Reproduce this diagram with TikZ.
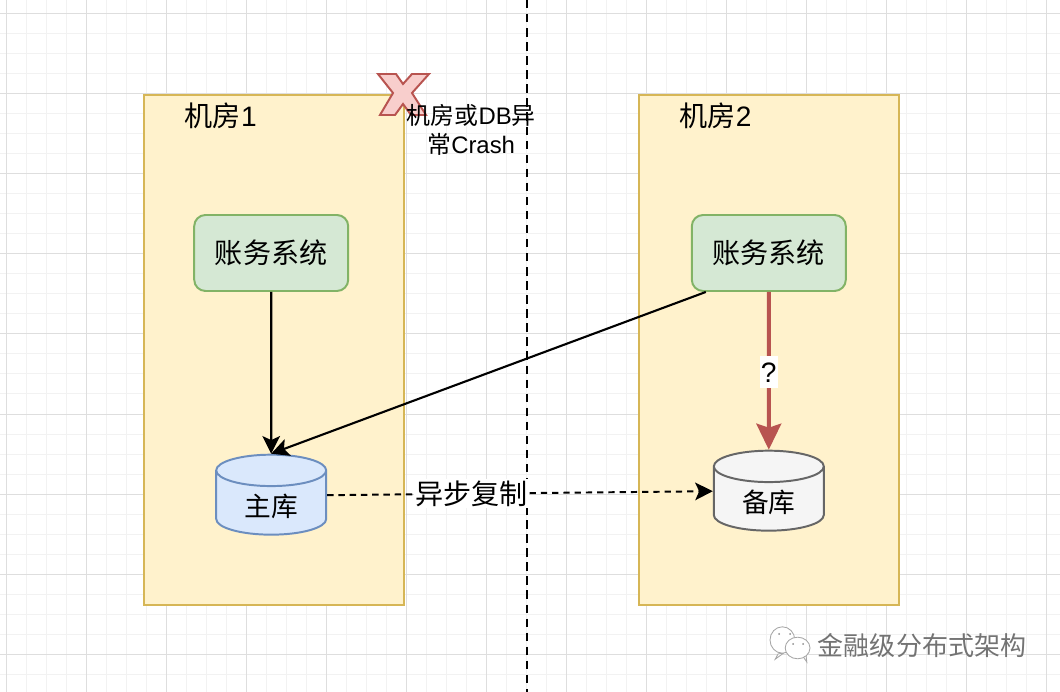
\documentclass[tikz,border=0pt]{standalone}
\usepackage{fontspec}
\setmainfont{Noto Sans CJK SC}
\newfontfamily\latin{Liberation Sans}
\usetikzlibrary{positioning,arrows.meta,shapes.geometric}

\begin{document}
\begin{tikzpicture}[>={Stealth[inset=1mm,length=4.4mm,width=4.4mm]},
  every node/.style={font=\fontsize{20pt}{24pt}\selectfont},
  room/.style={draw=roomline, fill=roomfill, line width=1.4pt, minimum width=6.5cm, minimum height=12.75cm},
  account/.style={draw=acctline, fill=acctfill, line width=1.4pt, rounded corners=8pt, minimum width=3.85cm, minimum height=1.9cm},
  store/.style={draw, cylinder, shape border rotate=90, aspect=0.5, line width=1.4pt, minimum width=2.75cm, minimum height=2cm, font=\fontsize{19pt}{23pt}\selectfont},
  conn/.style={->, line width=1.5pt, black},
  bubble/.style={draw=black!35, fill=white, line width=0.6pt}]
  \definecolor{roomfill}{HTML}{FFF2CC}
  \definecolor{roomline}{HTML}{D6B656}
  \definecolor{acctfill}{HTML}{D5E8D4}
  \definecolor{acctline}{HTML}{82B366}
  \definecolor{mainfill}{HTML}{DAE8FC}
  \definecolor{mainline}{HTML}{6C8EBF}
  \definecolor{backfill}{HTML}{F5F5F5}
  \definecolor{backline}{HTML}{666666}
  \definecolor{redfill}{HTML}{F8CECC}
  \definecolor{redline}{HTML}{B85450}
  \useasboundingbox (0,0) rectangle (26.5,17.3);

  % grid
  \foreach \x in {0,...,52} \draw[black!5, line width=0.7pt] (0.15+\x*0.5,0) -- (0.15+\x*0.5,17.3);
  \foreach \y in {0,...,34} \draw[black!5, line width=0.7pt] (0,0.45+\y*0.5) -- (26.5,0.45+\y*0.5);
  \foreach \x in {0,...,13} \draw[black!13, line width=0.7pt] (0.15+\x*2,0) -- (0.15+\x*2,17.3);
  \foreach \y in {0,...,8} \draw[black!13, line width=0.7pt] (0,0.95+\y*2) -- (26.5,0.95+\y*2);

  % divider
  \coordinate (top) at (13.17,17.3);
  \coordinate (bottom) at (13.17,0);
  \draw[dashed, line width=1.4pt, dash pattern=on 6pt off 4pt] (top) -- (bottom);

  \node[room] (room1) at (6.85,8.54) {};
  \node[room] (room2) at (19.22,8.54) {};
  \node (label1) at (5.52,14.4) {机房{\latin 1}};
  \node (label2) at (17.89,14.4) {机房{\latin 2}};

  \node[account] (acct1) at (6.78,10.975) {账务系统};
  \node[account] (acct2) at (19.22,10.975) {账务系统};
  \node[store, fill=mainfill, draw=mainline] (db1) at (6.78,4.645) {主库};
  \node[store, fill=backfill, draw=backline] (db2) at (19.22,4.745) {备库};

  \draw[conn] (acct1) -- (db1.north);
  \draw[conn] ([xshift=0.375cm]acct2.south west) -- (db1.north);
  \draw[->, line width=2.8pt, redline, >={Stealth[inset=1mm,length=6.5mm,width=6.2mm]}] (acct2) -- (db2.north)
    node[pos=0.51, fill=white, inner xsep=1pt, inner ysep=0pt, minimum height=0.8cm, text=black, font=\latin\fontsize{20pt}{24pt}\selectfont] (ask) {?};
  \draw[->, dashed, line width=1.4pt, dash pattern=on 4.5pt off 3.5pt] ([yshift=0.275cm]db1.east) -- ([yshift=0.275cm]db2.west)
    node[pos=0.375, fill=white, inner sep=1pt] (sync) {异步复制};

  \draw[draw=redline, fill=redfill, line width=1.4pt] (9.45,15.45) -- (9.9,15.45) -- (10.075,15.2) -- (10.3,15.45) -- (10.725,15.45) -- (10.3,14.975) -- (10.65,14.425) -- (10.275,14.425) -- (10.075,14.7) -- (9.875,14.425) -- (9.5,14.425) -- (9.825,14.975) -- cycle;
  \node[align=center, font=\fontsize{17pt}{21pt}\selectfont] (crash) at (11.78,14.05) {机房或{\latin DB}异\\常{\latin Crash}};

  % watermark
  \draw[bubble] (19.45,0.95) -- (19.38,0.82) -- (19.6,0.98) -- cycle;
  \draw[bubble] (19.56,1.3) ellipse (0.31 and 0.33);
  \draw[bubble] (20.08,0.88) -- (20.17,0.75) -- (20.15,0.93) -- cycle;
  \draw[bubble] (19.94,1.1) ellipse (0.31 and 0.27);
  \foreach \x/\y in {19.48/1.45,19.75/1.45,19.83/1.2,20.08/1.2} \fill[black!45] (\x,\y) circle (0.025);
  \node[text=black!55, font=\fontsize{18.5pt}{22pt}\selectfont] (mark) at (23.05,1.17) {金融级分布式架构};
\end{tikzpicture}
\end{document}
